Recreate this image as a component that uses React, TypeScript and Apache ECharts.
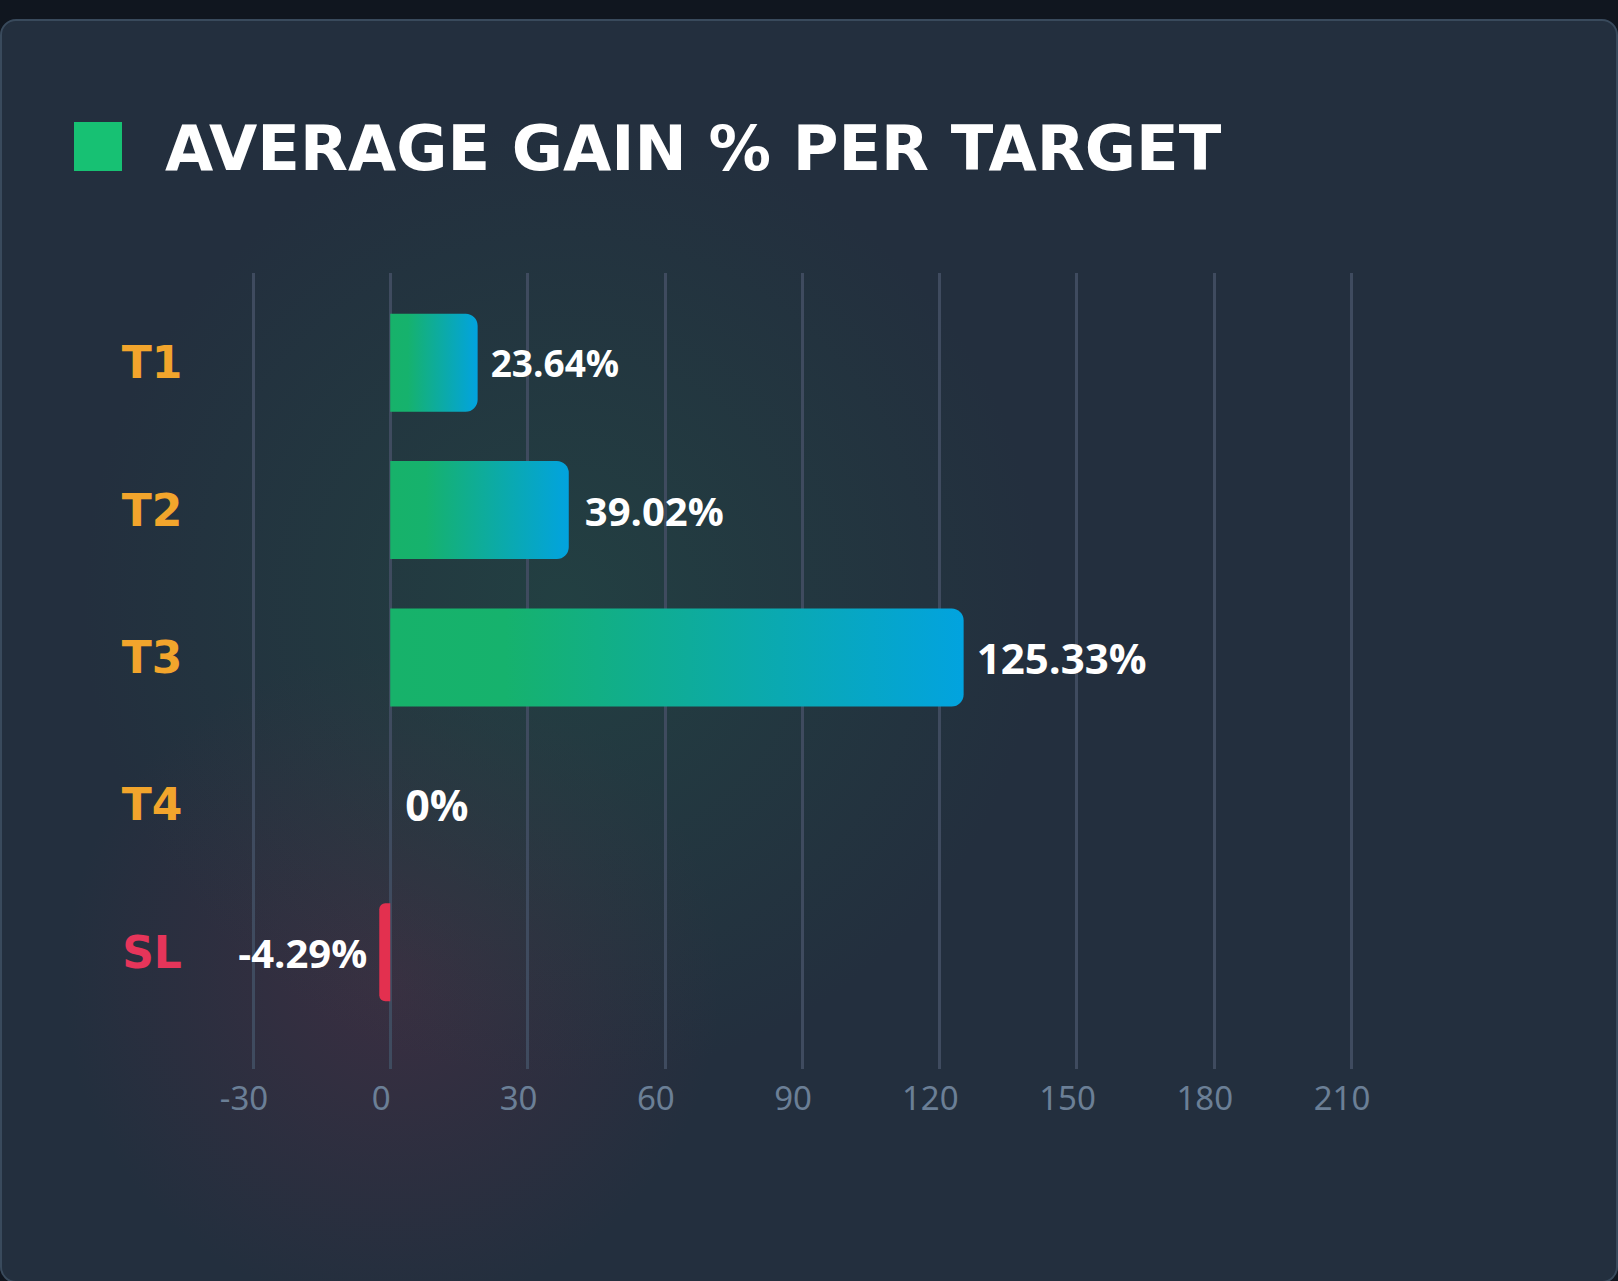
import React, { useEffect, useRef } from "react";
import * as echarts from "echarts";

const titleText = "AVERAGE GAIN % PER TARGET";
const categories = ["T1", "T2", "T3", "T4", "SL"];
// bar lengths as drawn in the picture
const barValues = [19.1, 39.02, 125.33, 0, -2.4];
// value labels as printed
const valueLabels = ["23.64%", "39.02%", "125.33%", "0%", "-4.29%"];
const axisMin = -30;
const axisMax = 210;
const axisStep = 30;

// label styling per bar (sizes / gaps seen in the picture)
const labelSizes = [37, 40, 42, 43, 40];
const labelGaps = [13, 16, 13, 15, 12];

export default function App() {
  const ref = useRef<HTMLDivElement>(null);

  useEffect(() => {
    if (!ref.current) return;
    const chart = echarts.init(ref.current, undefined, { renderer: "svg" });

    const gradient = new echarts.graphic.LinearGradient(0, 0, 1, 0, [
      { offset: 0, color: "#17b26a" },
      { offset: 0.2, color: "#16b26d" },
      { offset: 1, color: "#02a3df" },
    ]);

    const option: any = {
      animation: false,
      backgroundColor: "transparent",
      graphic: [
        {
          type: "rect",
          shape: { x: 74, y: 122, width: 48, height: 49 },
          style: { fill: "#17c173" },
        },
        {
          type: "text",
          x: 165,
          y: 148,
          style: {
            text: titleText,
            font: 'bold 62.4px "DejaVu Sans"',
            fill: "#ffffff",
            textVerticalAlign: "middle",
          },
        },
      ],
      grid: [
        { left: 253, right: 267, top: 289, height: 737 },
        { left: 253, right: 267, top: 273, bottom: 212 },
      ],
      xAxis: [
        {
          gridIndex: 0,
          type: "value",
          min: axisMin,
          max: axisMax,
          interval: axisStep,
          show: false,
        },
        {
          gridIndex: 1,
          type: "value",
          min: axisMin,
          max: axisMax,
          interval: axisStep,
          axisLine: { show: false },
          axisTick: { show: false },
          splitLine: { show: true, lineStyle: { color: "#3f4b5f", width: 3 } },
          axisLabel: {
            color: "#6b7f96",
            fontSize: 33,
            fontFamily: "Noto Sans",
            margin: 12,
            padding: [0, 18, 0, 0],
          },
        },
      ],
      yAxis: [
        {
          gridIndex: 0,
          type: "category",
          data: categories,
          inverse: true,
          axisLine: { show: false, onZero: false },
          axisTick: { show: false },
          splitLine: { show: false },
          axisLabel: {
            margin: 101,
            align: "center",
            formatter: (v: string) => (v === "SL" ? `{s|${v}}` : `{t|${v}}`),
            rich: {
              t: {
                color: "#f2a52c",
                fontSize: 44,
                fontWeight: "bold",
                fontFamily: "DejaVu Sans",
              },
              s: {
                color: "#e6355a",
                fontSize: 44,
                fontWeight: "bold",
                fontFamily: "DejaVu Sans",
              },
            },
          },
        },
        { gridIndex: 1, type: "value", min: 0, max: 1, show: false },
      ],
      series: [
        {
          type: "bar",
          xAxisIndex: 0,
          yAxisIndex: 0,
          barWidth: 98,
          data: barValues.map((v, i) => ({
            value: v,
            itemStyle:
              v < 0
                ? { color: "#e3304f", borderRadius: [6, 0, 0, 6] }
                : { color: gradient, borderRadius: [0, 12, 12, 0] },
            label: {
              position: v < 0 ? "left" : "right",
              fontSize: labelSizes[i],
              distance: labelGaps[i],
            },
          })),
          label: {
            show: true,
            formatter: (p: any) => valueLabels[p.dataIndex],
            color: "#ffffff",
            fontSize: 40,
            fontWeight: "bold",
            fontFamily: "Open Sans",
            distance: 13,
          },
        },
      ],
    };

    chart.setOption(option);
    return () => chart.dispose();
  }, []);

  return (
    <div
      style={{
        position: "fixed",
        left: 0,
        top: 0,
        width: 1618,
        height: 1281,
        background: "#10161f",
        overflow: "hidden",
      }}
    >
      <div
        style={{
          position: "absolute",
          left: 0,
          top: 19,
          width: 1618,
          height: 1264,
          boxSizing: "border-box",
          border: "2px solid #394a5c",
          borderRadius: 16,
          background:
            "radial-gradient(circle at 560px 580px, rgba(34,80,70,0.5) 0px, rgba(34,80,70,0) 480px), radial-gradient(circle at 390px 960px, rgba(95,45,70,0.38) 0px, rgba(95,45,70,0) 330px), #232f3e",
        }}
      />
      <div
        ref={ref}
        style={{ position: "absolute", left: 0, top: 0, width: 1618, height: 1281 }}
      />
    </div>
  );
}
